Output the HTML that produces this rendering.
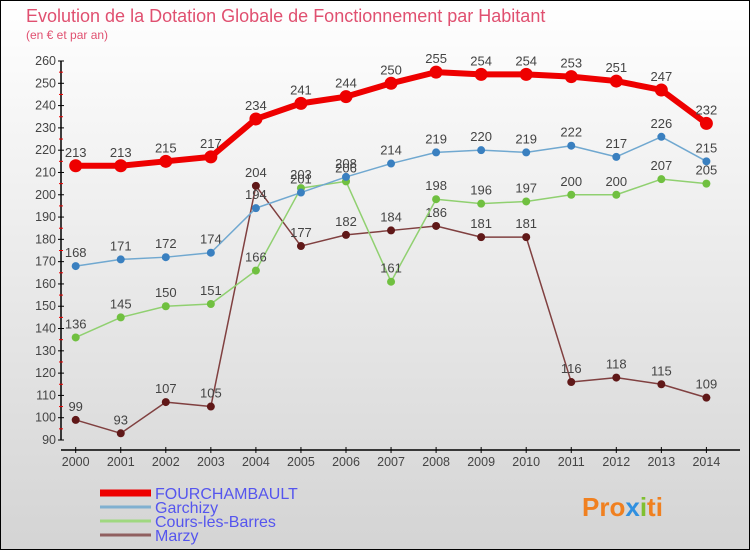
<!DOCTYPE html>
<html><head><meta charset="utf-8"><style>
body{margin:0;width:750px;height:550px;overflow:hidden;font-family:"Liberation Sans",sans-serif}
</style></head><body>
<svg id="c" width="750" height="550" xmlns="http://www.w3.org/2000/svg">
<defs><linearGradient id="bg" x1="0" y1="0" x2="0" y2="1"><stop offset="0" stop-color="#ffffff"/><stop offset="1" stop-color="#d4d4d4"/></linearGradient></defs>
<rect x="0.5" y="0.5" width="749" height="549" fill="url(#bg)" stroke="#000"/>
<text x="26" y="22" font-size="18" fill="#e05070">Evolution de la Dotation Globale de Fonctionnement par Habitant</text>
<text x="26" y="39" font-size="12" fill="#e05070">(en € et par an)</text>
<g id="axes"></g><g id="series"></g><g id="legend"></g>
<text x="582" y="516" font-size="26" font-weight="bold" fill="#f08020">Pro<tspan fill="#3090e0">x</tspan><tspan fill="#80c030">i</tspan>ti</text>
</svg>
<script>
const years=[2000,2001,2002,2003,2004,2005,2006,2007,2008,2009,2010,2011,2012,2013,2014];
const fourchambault=[213,213,215,217,234,241,244,250,255,254,254,253,251,247,232];
const garchizy=[168,171,172,174,194,201,208,214,219,220,219,222,217,226,215];
const cours=[136,145,150,151,166,203,206,161,198,196,197,200,200,207,205];
const marzy=[99,93,107,105,204,177,182,184,186,181,181,116,118,115,109];
const yTicks=[90,100,110,120,130,140,150,160,170,180,190,200,210,220,230,240,250,260];
const NS='http://www.w3.org/2000/svg';
const X=i=>75.7+i*45.05;
const Y=v=>440-(v-90)*379/170;
function mk(t,a,p){const e=document.createElementNS(NS,t);for(const k in a)e.setAttribute(k,a[k]);p.appendChild(e);return e;}
const ax=document.getElementById('axes');
const yl=mk('line',{x1:61,y1:Y(260),x2:61,y2:Y(90),stroke:'#000','stroke-width':1.5},ax);


const xl=mk('line',{x1:61,y1:450,x2:740,y2:450,stroke:'#000','stroke-width':1.5},ax);


yTicks.forEach(v=>{
 mk('line',{x1:58,y1:Y(v),x2:64,y2:Y(v),stroke:'#000'},ax);
 mk('line',{x1:59,y1:Y(v+5),x2:63,y2:Y(v+5),stroke:v<260?'#e00':'none'},ax);
 const t=mk('text',{x:56,y:Y(v)+4,'font-size':12.5,fill:'#444','text-anchor':'end'},ax);t.textContent=v;
 
 
});
years.forEach((y,i)=>{
 mk('line',{x1:X(i),y1:447,x2:X(i),y2:453,stroke:'#000'},ax);
 const t=mk('text',{x:X(i),y:466,'font-size':12.5,fill:'#444','text-anchor':'middle'},ax);t.textContent=y;
 
 
});
const sg=document.getElementById('series');
function series(name,data,color,w,r,dot){
 const g=mk('g',{},sg);
 
 
 mk('polyline',{points:data.map((v,i)=>X(i)+','+Y(v)).join(' '),fill:'none',stroke:color,'stroke-width':w,'stroke-linejoin':'round'},g);
 data.forEach((v,i)=>{
  const c=mk('circle',{cx:X(i),cy:Y(v),r:r,fill:dot},g);
  
  
  const t=mk('text',{x:X(i),y:Y(v)-9,'font-size':13,fill:'#444','text-anchor':'middle'},g);t.textContent=v;
  
  
 });
}
series('marzy',marzy,'#804040',1.5,4,'#601818');
series('cours-les-barres',cours,'#90d070',1.5,4,'#70c040');
series('garchizy',garchizy,'#70a8d0',1.5,4,'#3a80c0');
series('fourchambault',fourchambault,'#ee0000',6,6.5,'#ee0000');
const lg=document.getElementById('legend');
[['FOURCHAMBAULT','#ee0000',7],['Garchizy','#80b0d0',3],['Cours-les-Barres','#a0d880',3],['Marzy','#906060',3]].forEach((e,i)=>{
 const y=493+i*14;
 const g=mk('g',{},lg);
 
 
 mk('line',{x1:100,y1:y,x2:151,y2:y,stroke:e[1],'stroke-width':e[2]},g);
 const t=mk('text',{x:155,y:y+6,'font-size':16,fill:'#5555ee'},g);t.textContent=e[0];
});
</script>
</body></html>
